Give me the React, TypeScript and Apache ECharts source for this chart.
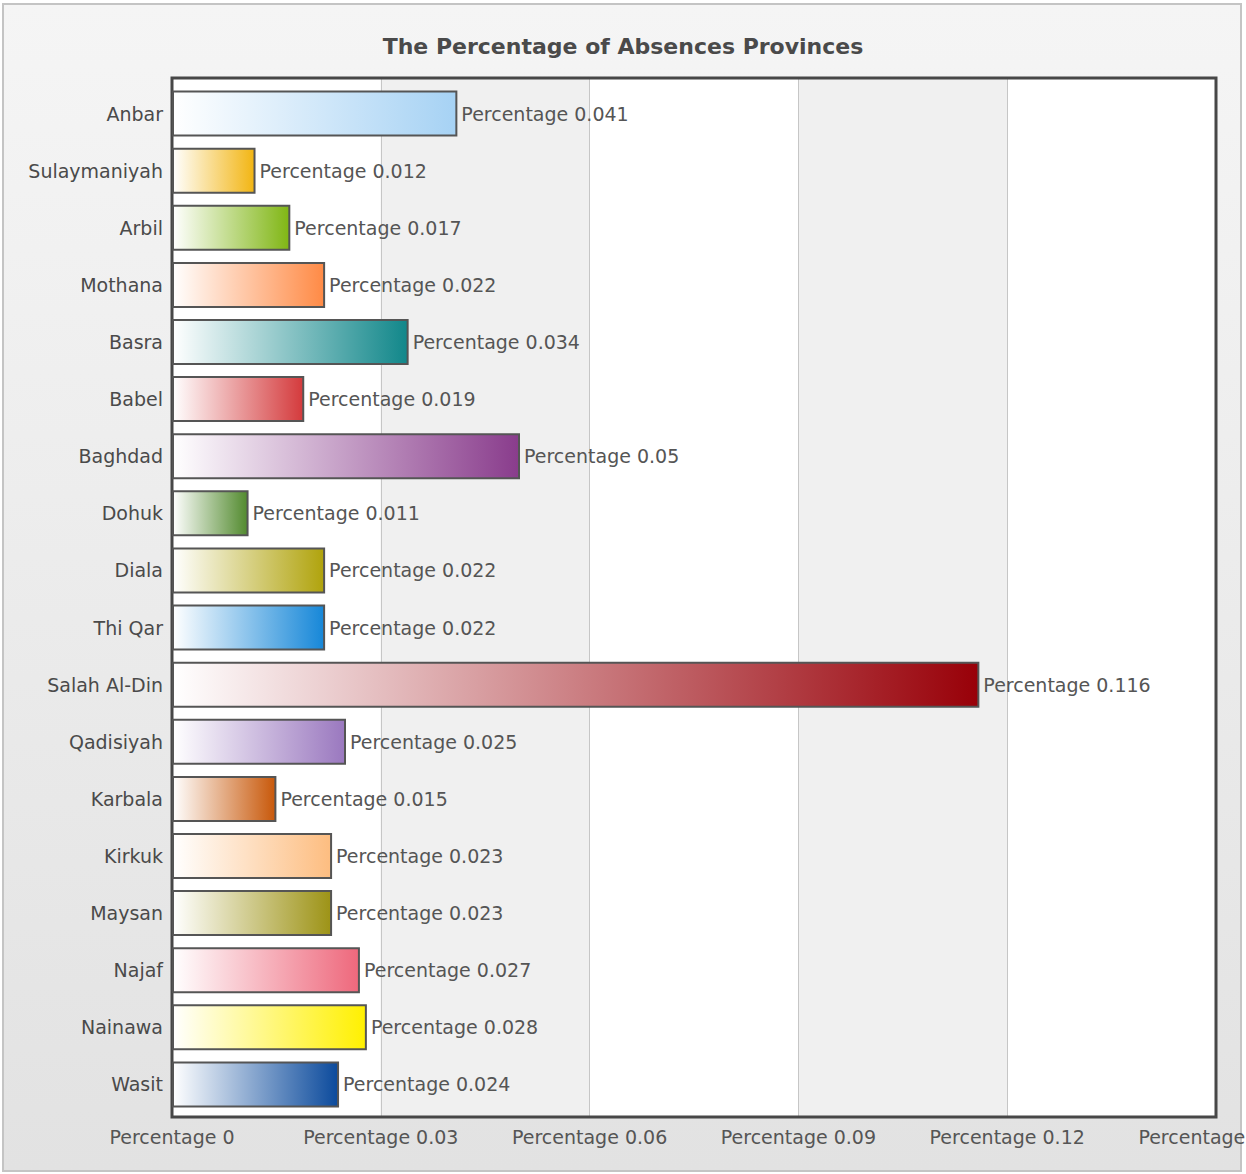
import React, { useEffect, useRef } from "react";
import * as echarts from "echarts";

const categories = [
  "Anbar", "Sulaymaniyah", "Arbil", "Mothana", "Basra", "Babel", "Baghdad", "Dohuk", "Diala",
  "Thi Qar", "Salah Al-Din", "Qadisiyah", "Karbala", "Kirkuk", "Maysan", "Najaf", "Nainawa", "Wasit",
];
const values = [
  0.041, 0.012, 0.017, 0.022, 0.034, 0.019, 0.05, 0.011, 0.022,
  0.022, 0.116, 0.025, 0.015, 0.023, 0.023, 0.027, 0.028, 0.024,
];
const barColors = [
  "#a6d2f4", "#f2b512", "#80b614", "#ff8a45", "#11878a", "#d43a3c", "#893c8c", "#528a2e", "#b0a30c",
  "#1687d8", "#980008", "#9a78bf", "#c8580a", "#fdbd80", "#9d9316", "#ee687c", "#fff000", "#0b4a9c",
];
const tickLabels = [
  "Percentage 0", "Percentage 0.03", "Percentage 0.06", "Percentage 0.09", "Percentage 0.12", "Percentage 0.15",
];
const title = "The Percentage of Absences Provinces";

const FONT = "DejaVu Sans";

export default function App() {
  const ref = useRef<HTMLDivElement>(null);
  useEffect(() => {
    const chart = echarts.init(ref.current!, undefined, { renderer: "svg" });
    const L = 172, R = 1216, T = 78, B = 1117;
    chart.setOption({
      animation: false,
      backgroundColor: "#ffffff",
      title: {
        text: title,
        left: "center",
        top: 30,
        textStyle: { fontFamily: FONT, fontSize: 22, fontWeight: "bold", color: "#4a4a4a" },
      },
      graphic: [
        {
          type: "rect",
          z: -100,
          silent: true,
          shape: { x: 3, y: 4, width: 1238, height: 1167 },
          style: {
            fill: new echarts.graphic.LinearGradient(0, 0, 0, 1, [
              { offset: 0, color: "#f5f5f5" },
              { offset: 1, color: "#e2e2e2" },
            ]),
            stroke: "#c4c4c4",
            lineWidth: 2,
          },
        },
        {
          type: "rect",
          z: 1,
          silent: true,
          shape: { x: L, y: T, width: R - L, height: B - T },
          style: { fill: "none", stroke: "#474747", lineWidth: 3 },
        },
      ],
      grid: [
        { left: L, right: 1246 - R, top: T, height: B - T, outerBoundsMode: "none", containLabel: false },
        { left: L, right: 1246 - R, top: 85, height: 1028, outerBoundsMode: "none", containLabel: false },
      ],
      xAxis: [
        {
          gridIndex: 0,
          type: "value",
          min: 0,
          max: 0.15,
          interval: 0.03,
          axisLine: { show: false },
          axisTick: { show: false },
          splitLine: { show: true, lineStyle: { color: "#c6c6c6", width: 1 } },
          splitArea: { show: true, areaStyle: { color: ["#ffffff", "#f0f0f0"] } },
          axisLabel: {
            margin: 10,
            fontFamily: FONT,
            fontSize: 19,
            color: "#555555",
            hideOverlap: false,
            formatter: (_v: number, i: number) => tickLabels[i],
          },
        },
        {
          gridIndex: 1,
          type: "value",
          min: 0,
          max: 0.15,
          show: false,
          splitLine: { show: false },
        },
      ],
      yAxis: [
        { gridIndex: 0, type: "value", show: false, splitLine: { show: false } },
        {
          gridIndex: 1,
          type: "category",
          data: categories,
          inverse: true,
          axisLine: { show: false },
          axisTick: { show: false },
          axisLabel: { margin: 9, fontFamily: FONT, fontSize: 19, color: "#4a4a4a" },
        },
      ],
      series: [
        {
          type: "bar",
          xAxisIndex: 1,
          yAxisIndex: 1,
          barWidth: 46,
          z: 2,
          data: values.map((v, i) => ({
            value: v,
            itemStyle: {
              color: new echarts.graphic.LinearGradient(0, 0, 1, 0, [
                { offset: 0, color: "#ffffff" },
                { offset: 1, color: barColors[i] },
              ]),
              borderColor: "#555555",
              borderWidth: 2,
            },
          })),
          label: {
            show: true,
            position: "right",
            distance: 4,
            fontFamily: FONT,
            fontSize: 19,
            color: "#555555",
            formatter: (p: any) => `Percentage ${p.value}`,
          },
        },
      ],
    });
    return () => chart.dispose();
  }, []);
  return (
    <div
      ref={ref}
      style={{ position: "fixed", left: 0, top: 0, width: 1246, height: 1174, overflow: "hidden" }}
    />
  );
}
